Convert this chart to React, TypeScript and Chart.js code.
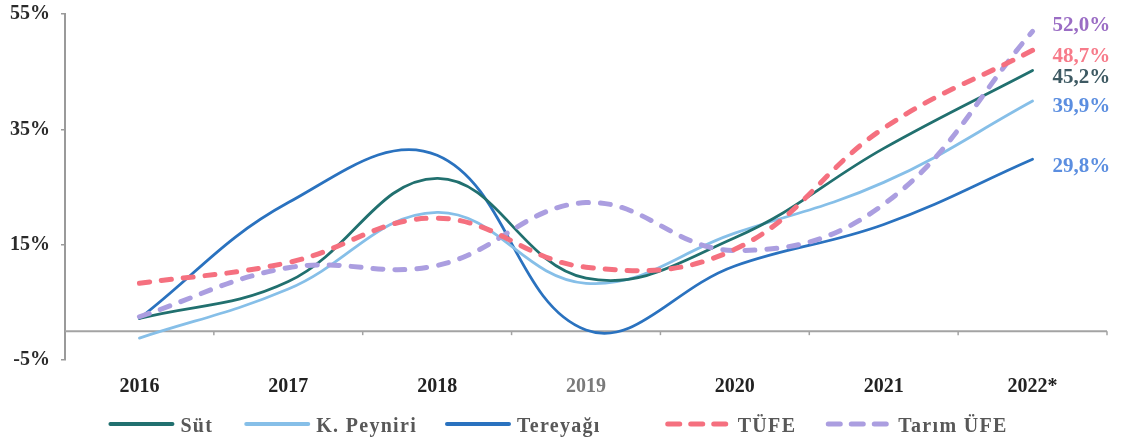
import React, { useEffect, useRef } from "react";
import { Chart, registerables } from "chart.js";

Chart.register(...registerables);

// ---- data ----
const categories = ["2016", "2017", "2018", "2019", "2020", "2021", "2022*"];
const sut = [2.2, 8.6, 26.5, 9.2, 16.2, 31.7, 45.2];
const kPeyniri = [-1.2, 7.3, 20.6, 8.3, 17.0, 25.8, 39.9];
const tereyagi = [2.2, 22.3, 30.5, 0.2, 11.3, 18.5, 29.8];
const tufe = [8.3, 11.9, 19.6, 11.1, 14.2, 35.2, 48.7];
const tarimUfe = [2.5, 11.0, 11.4, 22.3, 14.0, 22.0, 52.0];
const seriesNames = ["Süt", "K. Peyniri", "Tereyağı", "TÜFE", "Tarım ÜFE"];
const endLabels = ["45,2%", "39,9%", "29,8%", "48,7%", "52,0%"];
const yMin = -5;
const yMax = 55;
const yStep = 20;

// ---- styles ----
const FONT = "'Liberation Serif', 'Times New Roman', serif";
const lineColors = ["#21706f", "#86bfe8", "#2a72bf", "#f5707f", "#ab9ee0"];
const labelColors = ["#3e5a63", "#5b8ee0", "#5b8ee0", "#f77b8a", "#9a6cc4"];
const labelDy = [7, 6, 7, 6, -6];
const legendGaps = [33, 30, 67, 32];

const zeroLinePlugin = {
  id: "zeroLine",
  beforeDatasetsDraw(chart: any) {
    const { ctx, chartArea, scales } = chart;
    const y0 = scales.y.getPixelForValue(0);
    const xs = scales.x;
    ctx.save();
    ctx.strokeStyle = "#a3a3a3";
    ctx.lineWidth = 2;
    ctx.beginPath();
    ctx.moveTo(chartArea.left, y0);
    ctx.lineTo(chartArea.right, y0);
    ctx.stroke();
    ctx.lineWidth = 1.5;
    const n = categories.length;
    for (let i = 0; i < n; i++) {
      const bx =
        i < n - 1
          ? (xs.getPixelForValue(i) + xs.getPixelForValue(i + 1)) / 2
          : chartArea.right;
      ctx.beginPath();
      ctx.moveTo(bx, y0);
      ctx.lineTo(bx, y0 + 4);
      ctx.stroke();
    }
    ctx.restore();
  },
};

const endLabelPlugin = {
  id: "endLabels",
  afterDatasetsDraw(chart: any) {
    const { ctx } = chart;
    ctx.save();
    ctx.font = `bold 21px ${FONT}`;
    ctx.textAlign = "left";
    ctx.textBaseline = "middle";
    chart.data.datasets.forEach((ds: any, i: number) => {
      const meta = chart.getDatasetMeta(i);
      const pt = meta.data[meta.data.length - 1];
      if (!pt) return;
      ctx.fillStyle = labelColors[i];
      ctx.fillText(endLabels[i], pt.x + 20, pt.y + labelDy[i]);
    });
    ctx.restore();
  },
};

const legendPlugin = {
  id: "customLegend",
  afterDraw(chart: any) {
    const { ctx } = chart;
    const lineLen = 62;
    const textGap = 8;
    ctx.save();
    ctx.font = `bold 20px ${FONT}`;
    (ctx as any).letterSpacing = "1.3px";
    const datasets = chart.data.datasets;
    const widths = datasets.map((ds: any) => lineLen + textGap + ctx.measureText(ds.label).width);
    let total = widths.reduce((a: number, b: number) => a + b, 0);
    for (let i = 0; i < widths.length - 1; i++) total += legendGaps[i];
    let x = chart.width / 2 - 2 - total / 2;
    const yLine = chart.height - 24;
    datasets.forEach((ds: any, i: number) => {
      const dashed = i >= 3;
      ctx.beginPath();
      ctx.strokeStyle = ds.borderColor;
      ctx.lineWidth = dashed ? 5 : 4;
      ctx.lineCap = "round";
      ctx.setLineDash(dashed ? [12, 11] : []);
      ctx.moveTo(x, yLine);
      ctx.lineTo(x + lineLen, yLine);
      ctx.stroke();
      ctx.setLineDash([]);
      ctx.fillStyle = "#585858";
      ctx.textAlign = "left";
      ctx.textBaseline = "middle";
      ctx.fillText(ds.label, x + lineLen + textGap, yLine + 3);
      x += widths[i] + (i < legendGaps.length ? legendGaps[i] : 0);
    });
    ctx.restore();
  },
};

export default function App() {
  const canvasRef = useRef<HTMLCanvasElement | null>(null);

  useEffect(() => {
    document.body.style.margin = "0";
    const canvas = canvasRef.current;
    if (!canvas) return;
    const allData = [sut, kPeyniri, tereyagi, tufe, tarimUfe];
    const datasets = allData.map((d, i) => {
      const dashed = i >= 3;
      return {
        label: seriesNames[i],
        data: d,
        borderColor: lineColors[i],
        backgroundColor: lineColors[i],
        borderWidth: dashed ? 5 : 2.8,
        borderDash: dashed ? [10, 12] : [],
        borderCapStyle: "round" as const,
        pointRadius: 0,
        tension: 0.4,
        fill: false,
        order: dashed ? 0 : 1,
      };
    });

    const chart = new Chart(canvas, {
      type: "line",
      data: { labels: categories, datasets },
      options: {
        responsive: true,
        maintainAspectRatio: false,
        animation: false,
        layout: { padding: { top: 14, right: 15, left: 0, bottom: 48 } },
        plugins: {
          tooltip: { enabled: false },
          legend: { display: false },
        },
        scales: {
          x: {
            type: "category",
            offset: true,
            grid: { display: false, drawTicks: false },
            border: { display: false },
            ticks: {
              padding: 15,
              maxRotation: 0,
              autoSkip: false,
              font: { family: FONT, size: 20, weight: "bold" },
              color: (c: any) => (c.index === 3 ? "#7a7a7a" : "#222222"),
            },
            afterFit: (s: any) => {
              s.height = 40;
              s.paddingLeft = 0;
              s.paddingRight = 0;
            },
          },
          y: {
            min: yMin,
            max: yMax,
            grid: {
              drawOnChartArea: false,
              drawTicks: true,
              tickLength: 4,
              color: "#9a9a9a",
              lineWidth: 1.5,
            },
            border: { display: true, color: "#9a9a9a", width: 2 },
            ticks: {
              stepSize: yStep,
              padding: 11,
              color: "#2a2a2a",
              font: { family: FONT, size: 20, weight: "bold" },
              callback: (v: any) => `${v}%`,
            },
            afterFit: (s: any) => {
              s.width = 65;
              s.paddingTop = 0;
              s.paddingBottom = 0;
            },
          },
        },
      },
      plugins: [zeroLinePlugin, endLabelPlugin, legendPlugin],
    });
    return () => chart.destroy();
  }, []);

  return (
    <div style={{ width: "1122px", height: "448px", position: "relative", background: "#fff" }}>
      <canvas ref={canvasRef} />
    </div>
  );
}
